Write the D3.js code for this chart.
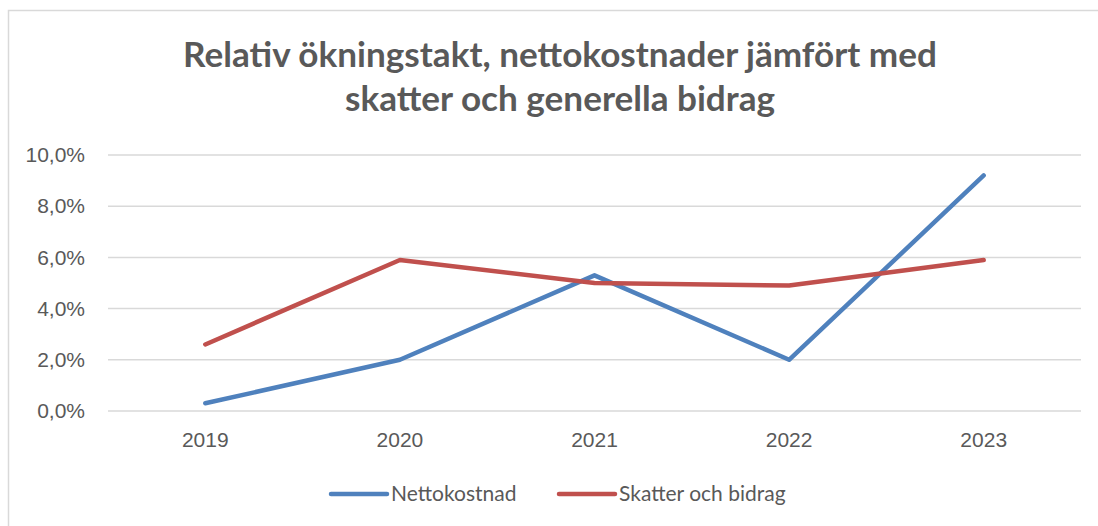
<!DOCTYPE html>
<html>
<head>
<meta charset="utf-8">
<script src="https://cdn.jsdelivr.net/npm/d3@7"></script>
<style>
  body { margin: 0; background: #fff; }
  svg { display: block; font-family: Lato, "Open Sans", sans-serif; }
</style>
</head>
<body>
<div id="chart"></div>
<script>
// data
const years = ['2019', '2020', '2021', '2022', '2023'];
const nettokostnad = [0.3, 2.0, 5.3, 2.0, 9.2];
const skatterBidrag = [2.6, 5.9, 5.0, 4.9, 5.9];
const yTicks = [0, 2, 4, 6, 8, 10];
const seriesNames = ['Nettokostnad', 'Skatter och bidrag'];
const seriesColors = ['#4F81BD', '#C0504D'];
const titleLines = ['Relativ ökningstakt, nettokostnader jämfört med', 'skatter och generella bidrag'];

const width = 1098, height = 526;
const margin = {top: 155, right: 17, bottom: 115, left: 108};
const textColor = '#595959';
const labelSize = 21;

const svg = d3.select('#chart').append('svg')
    .attr('width', width)
    .attr('height', height);

// chart area border
svg.append('rect')
    .attr('x', 8.5).attr('y', 10.5)
    .attr('width', width).attr('height', height)
    .attr('fill', 'none')
    .attr('stroke', '#d9d9d9')
    .attr('stroke-width', 1.5);

// title
const title = svg.append('text')
    .attr('text-anchor', 'middle')
    .attr('fill', textColor)
    .attr('font-weight', 'bold')
    .attr('font-size', 31);
title.selectAll('tspan')
  .data(titleLines)
  .join('tspan')
    .attr('x', 560)
    .attr('y', (d, i) => 67 + i * 44)
    .text(d => d);
// size the title so the first line is as wide as in the original
const w0 = title.select('tspan').node().getComputedTextLength();
title.attr('font-size', 31 * 754 / w0);

const x = d3.scaleBand()
    .domain(years)
    .range([margin.left, width - margin.right]);

const y = d3.scaleLinear()
    .domain([0, 10])
    .range([height - margin.bottom, margin.top]);

// gridlines
svg.append('g')
  .selectAll('line')
  .data(yTicks)
  .join('line')
    .attr('x1', margin.left)
    .attr('x2', width - margin.right)
    .attr('y1', d => y(d))
    .attr('y2', d => y(d))
    .attr('stroke', '#d9d9d9')
    .attr('stroke-width', 1.5);

// y axis labels
const yAxis = svg.append('g')
    .attr('transform', `translate(${margin.left},0)`)
    .call(d3.axisLeft(y).tickValues(yTicks).tickSize(0).tickPadding(23)
      .tickFormat(d => d3.format('.1f')(d).replace('.', ',') + '%'));
yAxis.select('.domain').remove();
yAxis.selectAll('text')
    .attr('fill', textColor)
    .attr('font-size', labelSize);

// x axis labels
const xAxis = svg.append('g')
    .attr('transform', `translate(0,${height - margin.bottom})`)
    .call(d3.axisBottom(x).tickSize(0).tickPadding(21));
xAxis.select('.domain').remove();
xAxis.selectAll('text')
    .attr('fill', textColor)
    .attr('font-size', labelSize);

const line = d3.line()
    .x((d, i) => x(years[i]) + x.bandwidth() / 2)
    .y(d => y(d));

svg.append('g')
  .selectAll('path')
  .data([nettokostnad, skatterBidrag])
  .join('path')
    .attr('d', line)
    .attr('fill', 'none')
    .attr('stroke', (d, i) => seriesColors[i])
    .attr('stroke-width', 4.5)
    .attr('stroke-linecap', 'round')
    .attr('stroke-linejoin', 'round');

// legend
const legendX = [331, 559];
const legend = svg.append('g')
  .selectAll('g')
  .data(seriesNames)
  .join('g')
    .attr('transform', (d, i) => `translate(${legendX[i]},494)`);
legend.append('line')
    .attr('x1', 0).attr('x2', 56)
    .attr('stroke', (d, i) => seriesColors[i])
    .attr('stroke-width', 4.5)
    .attr('stroke-linecap', 'round');
legend.append('text')
    .attr('x', 60)
    .attr('dy', '0.35em')
    .attr('fill', textColor)
    .attr('font-size', labelSize)
    .text(d => d);
</script>
</body>
</html>
